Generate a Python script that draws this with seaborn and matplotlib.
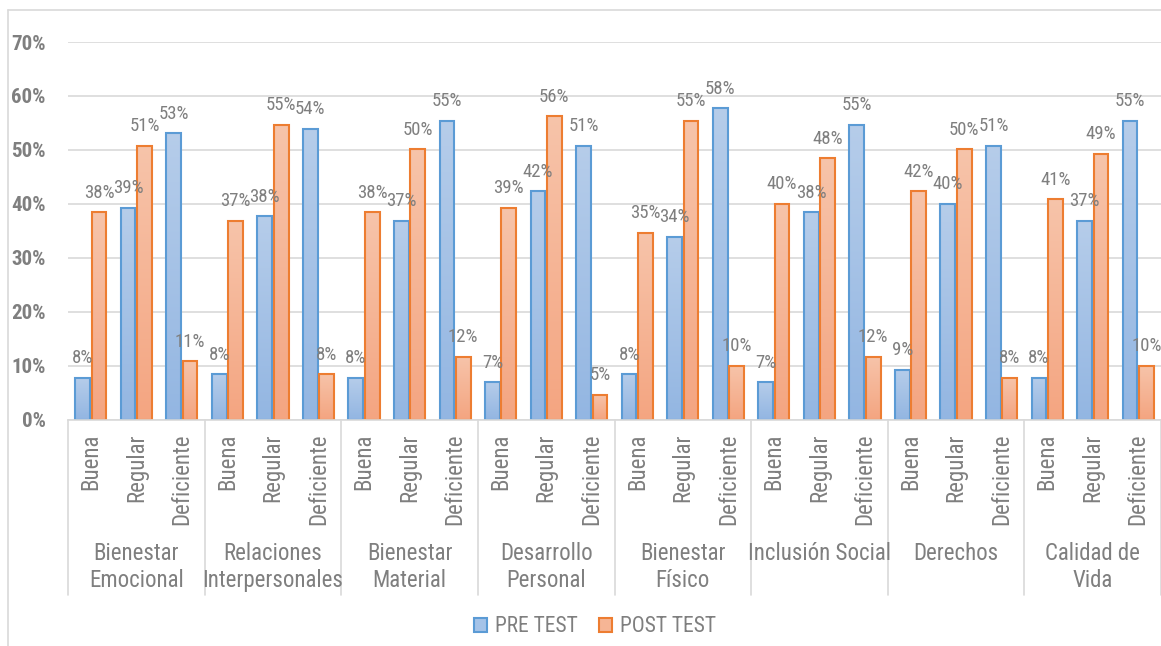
import numpy as np
import pandas as pd
import matplotlib
matplotlib.use("Agg")
import matplotlib.pyplot as plt
import seaborn as sns
from matplotlib import font_manager as fm
from matplotlib.colors import LinearSegmentedColormap, to_rgb
from matplotlib.patches import Patch
from matplotlib.lines import Line2D
from matplotlib.transforms import ScaledTranslation

# ---------------- data ----------------
groups = ["Bienestar\nEmocional", "Relaciones\nInterpersonales", "Bienestar\nMaterial",
          "Desarrollo\nPersonal", "Bienestar\nFísico", "Inclusión Social", "Derechos",
          "Calidad de\nVida"]
subcategories = ["Buena", "Regular", "Deficiente"]
series = ["PRE TEST", "POST TEST"]
pre_test = [7.7, 39.3, 53.1, 8.4, 37.7, 53.9, 7.7, 36.9, 55.4, 6.9, 42.3, 50.8,
            8.4, 33.9, 57.7, 6.9, 38.4, 54.6, 9.2, 40.0, 50.8, 7.7, 36.9, 55.4]
post_test = [38.4, 50.8, 10.8, 36.9, 54.6, 8.4, 38.4, 50.1, 11.6, 39.3, 56.2, 4.6,
             34.6, 55.4, 10.0, 40.0, 48.4, 11.6, 42.3, 50.1, 7.7, 40.8, 49.3, 10.0]
y_ticks = [0, 10, 20, 30, 40, 50, 60, 70]

slot_order = [f"{g}|{s}" for g in groups for s in subcategories]
rows = []
for i, key in enumerate(slot_order):
    rows.append({"slot": key, "test": series[0], "value": pre_test[i]})
    rows.append({"slot": key, "test": series[1], "value": post_test[i]})
df = pd.DataFrame(rows)

# ---------------- style ----------------
sns.set_style("white")
names = {f.name for f in fm.fontManager.ttflist}
if "Roboto Condensed" in names:
    fam, k = "Roboto Condensed", 1.0
else:
    fam, k = "Liberation Sans", 0.84
plt.rcParams["font.family"] = [fam, "DejaVu Sans"]

W, H = 1161, 646
fig = plt.figure(figsize=(W / 100, H / 100), dpi=100)
fig.patch.set_facecolor("white")
ax = fig.add_axes([68 / W, 1 - 419.5 / H, (W - 68) / W, (419.5 - 42) / H])

pal = ["#a5c3e8", "#f6b595"]
edges = ["#5b9bd5", "#ed7d31"]
grads = [("#93b6e2", "#b6cdea"), ("#f4a581", "#f7c4aa")]

sns.barplot(data=df, x="slot", y="value", hue="test", order=slot_order,
            hue_order=series, palette=pal, width=0.72, gap=0.1, legend=False,
            errorbar=None, saturation=1, linewidth=1.5, ax=ax)

ax.set_xlim(-0.5, len(slot_order) - 0.5)
ax.set_ylim(0, 70)

text_gray = "#7f7f7f"
for p in list(ax.patches):
    fc = p.get_facecolor()[:3]
    hi = 0 if np.allclose(fc, to_rgb(pal[0]), atol=0.02) else 1
    x0, w, h = p.get_x(), p.get_width(), p.get_height()
    cmap = LinearSegmentedColormap.from_list("g", grads[hi])
    im = ax.imshow(np.linspace(0, 1, 256).reshape(-1, 1), cmap=cmap, origin="lower",
                   extent=[x0, x0 + w, 0, h], aspect="auto", zorder=1.5,
                   interpolation="bicubic")
    im.set_clip_path(p)
    p.set_facecolor("none")
    p.set_edgecolor(edges[hi])
    p.set_linewidth(1.5)
    p.set_zorder(2)
    ax.annotate(f"{h:.0f}%", (x0 + w / 2, h), xytext=(0, 10.5), textcoords="offset points",
                ha="center", va="baseline", fontsize=13.5 * k, color=text_gray,
                annotation_clip=False)

ax.set_xlim(-0.5, len(slot_order) - 0.5)
ax.set_ylim(0, 70)

# y axis
ax.set_yticks(y_ticks)
ax.set_yticklabels([f"{t}%" for t in y_ticks], fontsize=15 * k, fontweight="bold",
                   color=text_gray)
ax.tick_params(axis="y", length=0, pad=16)
ax.yaxis.grid(True, color="#d9d9d9", linewidth=1.2)
ax.set_axisbelow(True)
ax.set_xticks([])
ax.set_xlabel("")
ax.set_ylabel("")
for s in ["left", "right", "top"]:
    ax.spines[s].set_visible(False)
ax.spines["bottom"].set_color("#d9d9d9")
ax.spines["bottom"].set_linewidth(1.2)

# category axis labels
xtr = ax.get_xaxis_transform()
sub_off = ScaledTranslation(0, -14 / 100, fig.dpi_scale_trans)
grp_off = ScaledTranslation(0, -(542 - 419.5) / 100, fig.dpi_scale_trans)
for i, key in enumerate(slot_order):
    g, s = key.split("|")
    ax.text(i, 0, s, rotation=90, ha="center", va="top", fontsize=16.5 * k,
            color=text_gray, transform=xtr + sub_off)
for gi, g in enumerate(groups):
    ax.text(gi * 3 + 1, 0, g, ha="center", va="top", fontsize=16.5 * k,
            color=text_gray, linespacing=1.22, transform=xtr + grp_off)
sep_bottom = -(595 - 419.5) / (419.5 - 42)
for gi in range(len(groups) + 1):
    ax.add_line(Line2D([gi * 3 - 0.5, gi * 3 - 0.5], [0, sep_bottom], transform=xtr,
                       color="#d9d9d9", linewidth=1.2, clip_on=False))

# legend
handles = [Patch(facecolor=pal[i], edgecolor=edges[i], linewidth=1.5) for i in range(2)]
fig.legend(handles, series, loc="center", bbox_to_anchor=(595 / W, 1 - 627 / H), ncol=2,
           frameon=False, fontsize=15.5 * k, labelcolor=text_gray, handlelength=0.6,
           handleheight=0.6, handletextpad=0.35, columnspacing=1.0)

# chart-area border (partially visible)
fig.add_artist(Line2D([7.5 / W, 7.5 / W], [0, 1 - 10 / H], transform=fig.transFigure,
                      color="#d9d9d9", linewidth=1.2))
fig.add_artist(Line2D([7.5 / W, 1], [1 - 10 / H, 1 - 10 / H], transform=fig.transFigure,
                      color="#d9d9d9", linewidth=1.2))

fig.savefig("out.png", dpi=100, facecolor="white")
